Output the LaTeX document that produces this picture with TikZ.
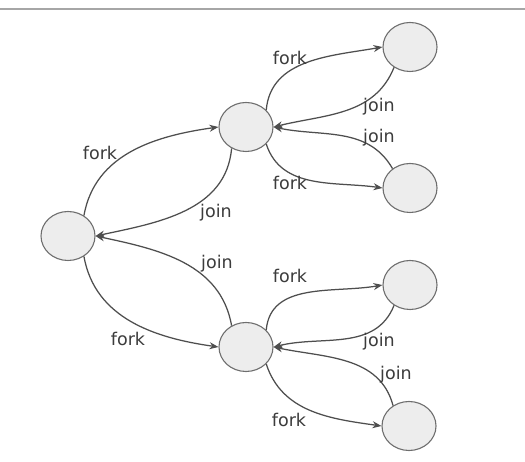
\documentclass[tikz,border=0pt]{standalone}
\usepackage{fontspec}
\setmainfont{DejaVu Sans}
\usetikzlibrary{arrows.meta,shapes.geometric}
\definecolor{edgegray}{HTML}{4E4E4E}
\definecolor{ringgray}{HTML}{6E6E6E}
\definecolor{fillgray}{HTML}{EDEDED}
\definecolor{txtgray}{HTML}{3C3C3C}
\begin{document}
\begin{tikzpicture}[x=1pt,y=1pt,
  task/.style={ellipse,draw=ringgray,fill=fillgray,line width=1.1pt,
    minimum width=54pt,minimum height=49pt,inner sep=0pt},
  link/.style={draw=edgegray,line width=1.25pt,
    -{Stealth[length=9pt,width=7pt]}},
  lbl/.style={font=\fontsize{17.5}{17.5}\selectfont,text=txtgray,
    inner sep=0pt,text height=1.5ex,text depth=0pt}]
  % canvas and rule at the top
  \fill[white] (0,0) rectangle (525,462);
  \useasboundingbox (0,0) rectangle (525,462);
  \draw[gray!70,line width=1.2pt] (0,453) -- (525,453);

  % tasks
  \node[task] (root) at (68,226) {};
  \node[task] (um)   at (246,335) {};
  \node[task] (lm)   at (246,115) {};
  \node[task] (r1)   at (410,415) {};
  \node[task] (r2)   at (410,274) {};
  \node[task] (r3)   at (410,177) {};
  \node[task] (r4)   at (409,36) {};

  % root level
  \draw[link] (root.52) to[out=80,in=188] (um.west);
  \draw[link] (um.236) to[out=265,in=12] (root.east);
  \draw[link] (lm.124) to[out=100,in=-12] (root.east);
  \draw[link] (root.-52) to[out=-80,in=172] (lm.west);

  % upper branch
  \draw[link] (um.40) to[out=85,in=190] (r1.west);
  \draw[link] (r1.232) to[out=248,in=14] (um.east);
  \draw[link] (r2.132) to[out=120,in=-12] (um.east);
  \draw[link] (um.-40) to[out=-72,in=172] (r2.west);

  % lower branch
  \draw[link] (lm.40) to[out=85,in=190] (r3.west);
  \draw[link] (r3.232) to[out=248,in=14] (lm.east);
  \draw[link] (r4.128) to[out=105,in=-12] (lm.east);
  \draw[link] (lm.-40) to[out=-72,in=172] (r4.west);

  % labels
  \node[lbl] (l1)  at (100,307) {fork};
  \node[lbl] (l2)  at (216,249) {join};
  \node[lbl] (l3)  at (217,198) {join};
  \node[lbl] (l4)  at (128,121) {fork};
  \node[lbl] (l5)  at (290,402) {fork};
  \node[lbl] (l6)  at (379,355) {join};
  \node[lbl] (l7)  at (379,324) {join};
  \node[lbl] (l8)  at (290,277) {fork};
  \node[lbl] (l9)  at (290,184) {fork};
  \node[lbl] (l10) at (379,120) {join};
  \node[lbl] (l11) at (396,87)  {join};
  \node[lbl] (l12) at (289,40)  {fork};
\end{tikzpicture}
\end{document}
